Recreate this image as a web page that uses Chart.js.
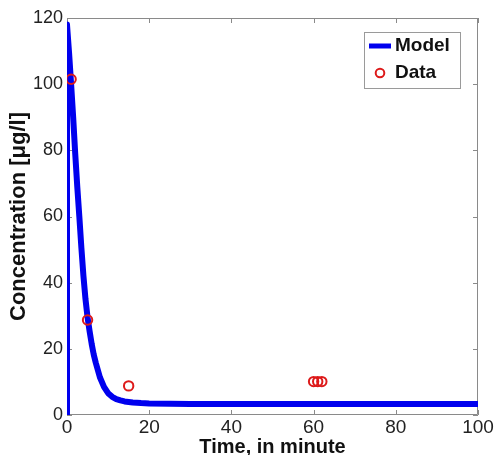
<!DOCTYPE html>
<html>
<head>
<meta charset="utf-8">
<script src="https://cdn.jsdelivr.net/npm/chart.js@4.4.0/dist/chart.umd.min.js"></script>
<style>
  body { margin: 0; background: #fff; }
  #wrap { width: 495px; height: 455px; }
</style>
</head>
<body>
<div id="wrap"><canvas id="myChart" width="495" height="455"></canvas></div>
<script>
// model curve
var modelTime = [0, 0, 0.5, 1, 1.5, 2, 2.5, 3, 3.5, 4, 4.5, 5, 5.5, 6, 6.5, 7, 7.5, 8, 9, 10, 11, 12, 13, 14, 16, 18, 20, 25, 30, 40, 60, 80, 100];
var modelConc = [0, 118, 109.5, 100, 90, 79, 69, 60, 50.5, 42, 35, 29.5, 25.3, 21.5, 18.3, 15.8, 13.6, 11.4, 8.5, 6.6, 5.5, 4.8, 4.4, 4.1, 3.8, 3.6, 3.5, 3.4, 3.35, 3.3, 3.3, 3.3, 3.3];

// measured points
var dataTime = [1, 5, 15, 60, 61, 62];
var dataConc = [101.5, 28.7, 8.8, 10.1, 10.1, 10.1];

var xTicks = [0, 20, 40, 60, 80, 100];
var yTicks = [0, 20, 40, 60, 80, 100, 120];

var modelPts = modelTime.map(function(t, i) { return { x: t, y: modelConc[i] }; });
var dataPts = dataTime.map(function(t, i) { return { x: t, y: dataConc[i] }; });

var boxColor = '#8a8a8a';

// box round the plot with inward ticks, matlab style
var boxPlugin = {
    id: 'box',
    beforeDatasetsDraw: function(chart) {
        var c = chart.ctx, a = chart.chartArea;
        var xs = chart.scales.x, ys = chart.scales.y;
        c.save();
        c.strokeStyle = boxColor;
        c.lineWidth = 1;
        c.beginPath();
        c.rect(a.left + 0.5, a.top + 0.5, a.right - a.left - 1, a.bottom - a.top - 1);
        xTicks.forEach(function(v) {
            var px = Math.round(xs.getPixelForValue(v)) + 0.5;
            c.moveTo(px, a.bottom); c.lineTo(px, a.bottom - 5);
            c.moveTo(px, a.top); c.lineTo(px, a.top + 5);
        });
        yTicks.forEach(function(v) {
            var py = Math.round(ys.getPixelForValue(v)) + 0.5;
            c.moveTo(a.left, py); c.lineTo(a.left + 5, py);
            c.moveTo(a.right, py); c.lineTo(a.right - 5, py);
        });
        c.stroke();
        c.restore();
    },
    afterDraw: function(chart) {
        // legend inside the plot, top right
        var c = chart.ctx;
        c.save();
        c.fillStyle = '#fff';
        c.strokeStyle = '#9a9a9a';
        c.lineWidth = 1;
        c.fillRect(364, 32, 96, 56);
        c.strokeRect(364.5, 32.5, 96, 56);
        c.strokeStyle = '#0000ee';
        c.lineWidth = 5;
        c.beginPath();
        c.moveTo(369, 46); c.lineTo(391, 46);
        c.stroke();
        c.strokeStyle = '#dd1a1a';
        c.lineWidth = 2;
        c.beginPath();
        c.arc(380, 73, 4.3, 0, Math.PI * 2);
        c.stroke();
        c.fillStyle = '#111';
        c.font = 'bold 19px "Liberation Sans", Arial, sans-serif';
        c.textBaseline = 'middle';
        c.fillText('Model', 395, 46);
        c.fillText('Data', 395, 73);
        c.restore();
    }
};

var ctx = document.getElementById('myChart').getContext('2d');
var myChart = new Chart(ctx, {
    type: 'scatter',
    data: {
        datasets: [{
            label: 'Data',
            data: dataPts,
            order: 0,
            pointStyle: 'circle',
            pointRadius: 4.7,
            pointBorderWidth: 2,
            borderColor: '#dd1a1a',
            backgroundColor: 'rgba(0,0,0,0)'
        }, {
            label: 'Model',
            data: modelPts,
            order: 1,
            showLine: true,
            pointRadius: 0,
            borderWidth: 6,
            borderColor: '#0000ee',
            borderJoinStyle: 'round',
            tension: 0,
            clip: 0
        }]
    },
    plugins: [boxPlugin],
    options: {
        responsive: false,
        animation: false,
        layout: { padding: { top: 18, right: 17, left: 0, bottom: 0 } },
        plugins: {
            legend: { display: false },
            tooltip: { enabled: false }
        },
        scales: {
            x: {
                type: 'linear',
                min: 0,
                max: 100,
                afterFit: function(s) { s.height = 40; },
                afterBuildTicks: function(s) { s.ticks = xTicks.map(function(v) { return { value: v }; }); },
                grid: { display: false, drawTicks: false },
                border: { display: false },
                ticks: {
                    padding: 1,
                    color: '#222',
                    font: { family: '"Liberation Sans", Arial, sans-serif', size: 19 }
                },
                title: {
                    display: true,
                    text: 'Time, in minute',
                    color: '#111',
                    padding: 0,
                    font: { family: '"Liberation Sans", Arial, sans-serif', size: 20, weight: 'bold', lineHeight: 0.8 }
                }
            },
            y: {
                type: 'linear',
                min: 0,
                max: 120,
                afterFit: function(s) { s.width = 67; },
                afterBuildTicks: function(s) { s.ticks = yTicks.map(function(v) { return { value: v }; }); },
                grid: { display: false, drawTicks: false },
                border: { display: false },
                ticks: {
                    padding: 4,
                    color: '#222',
                    font: { family: '"Liberation Sans", Arial, sans-serif', size: 18 }
                },
                title: {
                    display: true,
                    text: 'Concentration [\u03bcg/l]',
                    color: '#111',
                    padding: { top: 6, bottom: 0 },
                    font: { family: '"Liberation Sans", Arial, sans-serif', size: 22, weight: 'bold' }
                }
            }
        }
    }
});
</script>
</body>
</html>
